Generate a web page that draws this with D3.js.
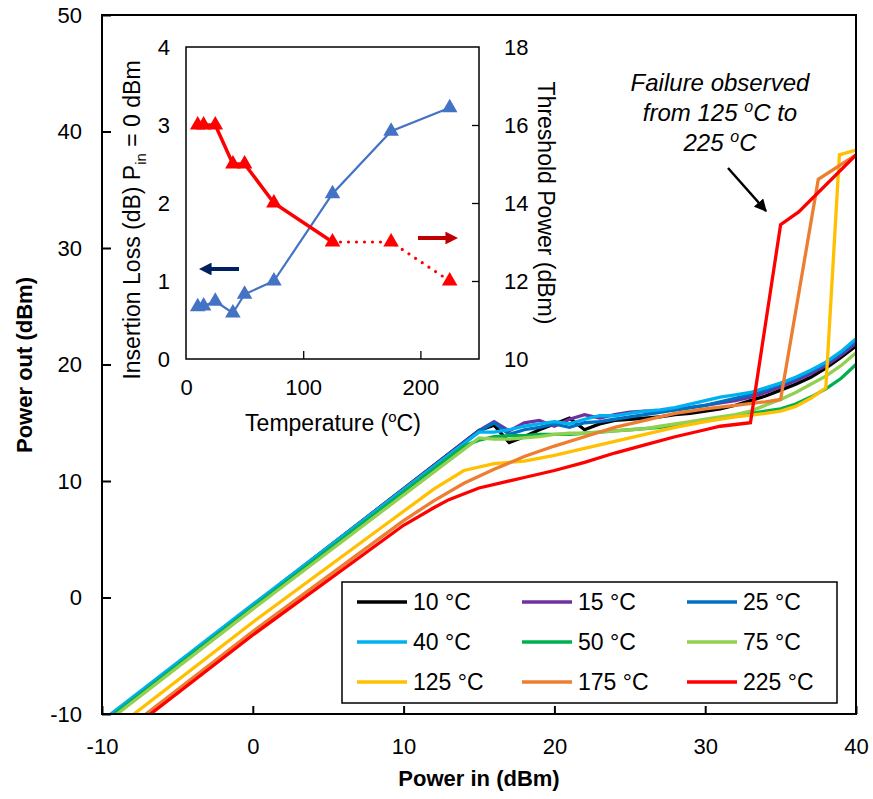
<!DOCTYPE html>
<html><head><meta charset="utf-8">
<script src="https://cdn.jsdelivr.net/npm/d3@7"></script>
<style>body{margin:0;background:#fff}svg{display:block}text{font-family:"Liberation Sans",Arial,sans-serif}</style>
</head><body><svg id="c" width="873" height="799"></svg>
<script>
// ---- main chart data: [Pin (dBm), Pout (dBm)] ----
const seriesNames = ["10 °C","15 °C","25 °C","40 °C","50 °C","75 °C","125 °C","175 °C","225 °C"];
const seriesColors = ["#000000","#7030A0","#0070C0","#00B0F0","#00B050","#92D050","#FFC000","#ED7D31","#FF0000"];
const s10 = [[-10,-10.67],[0,-0.67],[15,14.33],[16,14.8],[17,13.3],[18,13.8],[19,14.4],[20,14.9],[21,15.4],[22,14.4],[23,14.9],[24,15.2],[25,15.3],[26,15.4],[27,15.5],[28,15.7],[29,15.8],[30,16.0],[31,16.2],[32,16.5],[33,16.9],[34,17.3],[35,17.8],[36,18.3],[37,18.9],[38,19.7],[39,20.6],[40,21.6]];
const s15 = [[-10,-10.68],[0,-0.68],[15,14.32],[16,15.1],[17,14.3],[18,15.0],[19,15.2],[20,14.7],[21,15.3],[22,15.7],[23,15.4],[24,15.7],[25,15.9],[26,16.0],[27,16.0],[28,16.1],[29,16.3],[30,16.5],[31,16.7],[32,16.9],[33,17.2],[34,17.6],[35,18.1],[36,18.6],[37,19.2],[38,19.9],[39,20.8],[40,21.8]];
const s25 = [[-10,-10.74],[0,-0.74],[15,14.26],[16,15.0],[17,14.0],[18,14.4],[19,14.6],[20,14.9],[21,14.6],[22,15.0],[23,15.1],[24,15.3],[25,15.5],[26,15.7],[27,15.9],[28,16.1],[29,16.3],[30,16.5],[31,16.8],[32,17.1],[33,17.4],[34,17.8],[35,18.3],[36,18.8],[37,19.4],[38,20.1],[39,21.0],[40,22.0]];
const s40 = [[-10,-10.59],[0,-0.59],[15,14.2],[16,14.2],[17,14.4],[18,14.7],[19,14.9],[20,15.1],[21,14.9],[22,15.3],[23,15.6],[24,15.6],[25,15.8],[26,16.0],[27,16.1],[28,16.3],[29,16.6],[30,16.9],[31,17.2],[32,17.4],[33,17.6],[34,18.0],[35,18.4],[36,18.9],[37,19.5],[38,20.2],[39,21.1],[40,22.2]];
const s50 = [[-10,-10.83],[0,-0.83],[14,13.0],[15,13.5],[16,13.8],[17,13.9],[18,13.9],[19,14.0],[20,14.0],[21,14.0],[22,14.1],[23,14.2],[24,14.3],[25,14.4],[26,14.5],[27,14.6],[28,14.8],[29,15.0],[30,15.2],[31,15.4],[32,15.6],[33,15.8],[34,16.0],[35,16.2],[36,16.6],[37,17.2],[38,17.9],[39,18.8],[40,20.0]];
const s75 = [[-10,-11.0],[0,-1.0],[15,13.7],[16,13.6],[17,13.6],[18,13.7],[19,13.8],[20,14.0],[21,14.1],[22,14.1],[23,14.2],[24,14.3],[25,14.4],[26,14.5],[27,14.7],[28,14.9],[29,15.1],[30,15.3],[31,15.5],[32,15.7],[33,16.0],[34,16.5],[35,17.0],[36,17.6],[37,18.3],[38,19.0],[39,19.9],[40,21.0]];
const s125 = [[-10,-12.12],[0,-2.12],[10,7.4],[12,9.3],[14,10.9],[16,11.5],[18,11.7],[20,12.2],[22,12.8],[24,13.4],[26,14.0],[28,14.6],[30,15.1],[32,15.5],[34,15.8],[35,16.0],[36,16.4],[37,17.1],[38,18.0],[38.9,38.0],[40,38.4]];
const s175 = [[-10,-12.92],[0,-2.92],[10,6.6],[12,8.3],[14,9.8],[16,11.0],[18,12.1],[20,13.0],[22,13.8],[24,14.6],[26,15.2],[28,15.8],[30,16.2],[32,16.5],[34,16.8],[35,17.0],[37.5,35.9],[40,38.0]];
const s225 = [[-10,-13.22],[0,-3.22],[10,6.2],[12,7.7],[13,8.4],[15,9.4],[18,10.3],[20,10.9],[22,11.6],[24,12.4],[26,13.1],[28,13.8],[30,14.4],[31,14.7],[32,14.85],[33,15.0],[35,32.0],[36.2,33.1],[40,38.0]];
const mainSeries = [s10,s15,s25,s40,s50,s75,s125,s175,s225];
const xTicks = [-10,0,10,20,30,40];
const yTicks = [-10,0,10,20,30,40,50];

// ---- inset data ----
const temps = [10,15,25,40,50,75,125,175,225];
const insertionLoss = [0.67,0.68,0.74,0.59,0.83,1.0,2.12,2.92,3.22];
const thresholdPower = [16,16,16,15,15,14,13,13,12];
const insetXTicks = [0,100,200];
const insetYTicks = [0,1,2,3,4];
const insetY2Ticks = [10,12,14,16,18];

const svg = d3.select("#c");
const font = '"Liberation Sans",Arial,sans-serif';
const fmt = d => String(d);

// ---- main scales ----
const X0=102, X1=856, Y0=714, Y1=15;
const x = d3.scaleLinear([-10,40],[X0,X1]);
const y = d3.scaleLinear([-10,50],[Y0,Y1]);

const defs = svg.append("defs");
defs.append("clipPath").attr("id","clipMain")
  .append("rect").attr("x",X0).attr("y",Y1).attr("width",X1-X0).attr("height",Y0-Y1);

const line = d3.line().x(d=>x(d[0])).y(d=>y(d[1]));
const gLines = svg.append("g").attr("clip-path","url(#clipMain)");
mainSeries.forEach((s,i)=>{
  gLines.append("path").attr("d",line(s)).attr("fill","none")
    .attr("stroke",seriesColors[i]).attr("stroke-width",3.3).attr("stroke-linejoin","miter");
});

// main frame
svg.append("rect").attr("x",X0).attr("y",Y1).attr("width",X1-X0).attr("height",Y0-Y1)
  .attr("fill","none").attr("stroke","#000").attr("stroke-width",2);

// axes
const xAxis = d3.axisBottom(x).tickValues(xTicks).tickSize(-8).tickPadding(24).tickFormat(fmt);
const gx = svg.append("g").attr("transform",`translate(0,${Y0})`).call(xAxis);
const yAxis = d3.axisLeft(y).tickValues(yTicks).tickSize(-9).tickPadding(20).tickFormat(fmt);
const gy = svg.append("g").attr("transform",`translate(${X0},0)`).call(yAxis);
[gx,gy].forEach(g=>{
  g.select(".domain").remove();
  g.selectAll(".tick line").attr("stroke","#000").attr("stroke-width",2);
  g.selectAll(".tick text").attr("font-family",font).attr("font-size",22).attr("fill","#000");
});
gx.selectAll(".tick text").attr("dy","0.71em");

svg.append("text").attr("x",479).attr("y",786).attr("text-anchor","middle")
  .attr("font-size",22).attr("font-weight","bold").text("Power in (dBm)");
svg.append("text").attr("transform","translate(32,365) rotate(-90)").attr("text-anchor","middle")
  .attr("font-size",22).attr("font-weight","bold").text("Power out (dBm)");

// ---- annotation ----
const ann = svg.append("text").attr("text-anchor","middle").attr("font-size",24).attr("font-style","italic");
ann.append("tspan").attr("x",720).attr("y",91).text("Failure observed");
const l2 = ann.append("tspan").attr("x",720).attr("y",121);
l2.append("tspan").text("from 125 ");
l2.append("tspan").attr("font-size",16).attr("dy",-9).text("o");
l2.append("tspan").attr("dy",9).text("C to");
const l3 = ann.append("tspan").attr("x",720).attr("y",151);
l3.append("tspan").text("225 ");
l3.append("tspan").attr("font-size",16).attr("dy",-9).text("o");
l3.append("tspan").attr("dy",9).text("C");

defs.append("marker").attr("id","ahBlack").attr("viewBox","0 0 10 10").attr("refX",9).attr("refY",5)
  .attr("markerWidth",5).attr("markerHeight",5).attr("markerUnits","strokeWidth").attr("orient","auto")
  .append("path").attr("d","M0,0 L10,5 L0,10 z").attr("fill","#000");
svg.append("line").attr("x1",728).attr("y1",168).attr("x2",766).attr("y2",211)
  .attr("stroke","#000").attr("stroke-width",2.5).attr("marker-end","url(#ahBlack)");

// ---- legend ----
const lg = svg.append("g");
lg.append("rect").attr("x",342).attr("y",582).attr("width",495).attr("height",121)
  .attr("fill","#fff").attr("stroke","#000").attr("stroke-width",1.5);
const colX = [357,522,687], rowY = [602,642,682];
seriesNames.forEach((n,i)=>{
  const cx = colX[i%3], cy = rowY[Math.floor(i/3)];
  lg.append("line").attr("x1",cx).attr("x2",cx+50).attr("y1",cy).attr("y2",cy)
    .attr("stroke",seriesColors[i]).attr("stroke-width",3.5);
  lg.append("text").attr("x",cx+56).attr("y",cy).attr("dy","0.36em").attr("font-size",23).text(n);
});

// ---- inset ----
const IX0=186, IX1=479, IY0=359, IY1=47;
const ix = d3.scaleLinear([0,250],[IX0,IX1]);
const iy = d3.scaleLinear([0,4],[IY0,IY1]);
const iy2 = d3.scaleLinear([10,18],[IY0,IY1]);
const ig = svg.append("g");
ig.append("rect").attr("x",IX0).attr("y",IY1).attr("width",IX1-IX0).attr("height",IY0-IY1)
  .attr("fill","#fff").attr("stroke","#000").attr("stroke-width",1.5);

const ixAxis = d3.axisBottom(ix).tickValues(insetXTicks).tickSize(-8).tickPadding(20).tickFormat(fmt);
const iyAxis = d3.axisLeft(iy).tickValues(insetYTicks).tickSize(0).tickPadding(16).tickFormat(fmt);
const iy2Axis = d3.axisRight(iy2).tickValues(insetY2Ticks).tickSize(-7).tickPadding(25).tickFormat(fmt);
const gix = ig.append("g").attr("transform",`translate(0,${IY0})`).call(ixAxis);
const giy = ig.append("g").attr("transform",`translate(${IX0},0)`).call(iyAxis);
const giy2 = ig.append("g").attr("transform",`translate(${IX1},0)`).call(iy2Axis);
[gix,giy,giy2].forEach(g=>{
  g.select(".domain").remove();
  g.selectAll(".tick line").attr("stroke","#000").attr("stroke-width",1.3);
  g.selectAll(".tick text").attr("font-family",font).attr("font-size",22).attr("fill","#000");
});
gix.selectAll(".tick").filter(d=>d===0).select("line").remove();
giy2.selectAll(".tick").filter(d=>d===10||d===18).select("line").remove();

const tl = ig.append("text").attr("x",333).attr("y",431).attr("text-anchor","middle").attr("font-size",23);
tl.append("tspan").text("Temperature (");
tl.append("tspan").attr("font-size",15).attr("dy",-9).text("o");
tl.append("tspan").attr("dy",9).text("C)");

const yl = ig.append("text").attr("transform","translate(140,220) rotate(-90)").attr("text-anchor","middle").attr("font-size",23);
yl.append("tspan").text("Insertion Loss (dB) P");
yl.append("tspan").attr("font-size",15).attr("dy",6).text("in");
yl.append("tspan").attr("dy",-6).text(" = 0 dBm");

ig.append("text").attr("transform","translate(538,203) rotate(90)").attr("text-anchor","middle")
  .attr("font-size",23).text("Threshold Power (dBm)");

// blue IL line
const ilPts = temps.map((t,i)=>[t,insertionLoss[i]]);
ig.append("path").attr("d",d3.line().x(d=>ix(d[0])).y(d=>iy(d[1]))(ilPts))
  .attr("fill","none").attr("stroke","#4472C4").attr("stroke-width",2.2);
// red threshold line: solid to 125, dotted after
const thPts = temps.map((t,i)=>[t,thresholdPower[i]]);
const thLine = d3.line().x(d=>ix(d[0])).y(d=>iy2(d[1]));
ig.append("path").attr("d",thLine(thPts.filter(d=>d[0]<=125)))
  .attr("fill","none").attr("stroke","#FF0000").attr("stroke-width",3.5);
ig.append("path").attr("d",thLine(thPts.filter(d=>d[0]>=125)))
  .attr("fill","none").attr("stroke","#FF0000").attr("stroke-width",3.2)
  .attr("stroke-dasharray","0 8").attr("stroke-linecap","round");

const tri = d3.symbol().type(d3.symbolTriangle).size(105);
ig.selectAll(".bt").data(ilPts).join("path").attr("d",tri)
  .attr("transform",d=>`translate(${ix(d[0])},${iy(d[1])})`).attr("fill","#4472C4");
ig.selectAll(".rt").data(thPts).join("path").attr("d",tri)
  .attr("transform",d=>`translate(${ix(d[0])},${iy2(d[1])})`).attr("fill","#FF0000");

// inset arrows
defs.append("marker").attr("id","ahRed").attr("viewBox","0 0 10 10").attr("refX",2).attr("refY",5)
  .attr("markerWidth",3.2).attr("markerHeight",3.2).attr("markerUnits","strokeWidth").attr("orient","auto")
  .append("path").attr("d","M0,0 L10,5 L0,10 z").attr("fill","#C00000");
defs.append("marker").attr("id","ahNavy").attr("viewBox","0 0 10 10").attr("refX",2).attr("refY",5)
  .attr("markerWidth",3.2).attr("markerHeight",3.2).attr("markerUnits","strokeWidth").attr("orient","auto")
  .append("path").attr("d","M0,0 L10,5 L0,10 z").attr("fill","#002060");
ig.append("line").attr("x1",418).attr("y1",238).attr("x2",448).attr("y2",238)
  .attr("stroke","#C00000").attr("stroke-width",4).attr("marker-end","url(#ahRed)");
ig.append("line").attr("x1",239).attr("y1",269).attr("x2",209).attr("y2",269)
  .attr("stroke","#002060").attr("stroke-width",4).attr("marker-end","url(#ahNavy)");
</script></body></html>
